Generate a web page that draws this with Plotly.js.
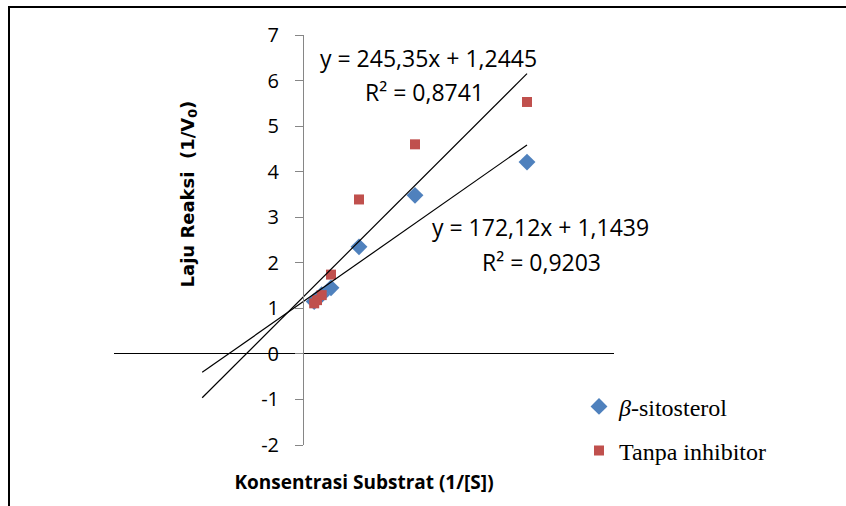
<!DOCTYPE html>
<html>
<head>
<meta charset="utf-8">
<script src="https://cdn.plot.ly/plotly-3.0.1.min.js"></script>
<style>html,body{margin:0;padding:0;background:#fff;}#chart{width:846px;height:506px;}</style>
</head>
<body>
<div id="chart"></div>
<script>
// 1/[S] values (x) and reaction rate 1/V0 (y)
var xValues = [0.02, 0.01, 0.005, 0.0025, 0.00167, 0.00125, 0.001];
var sitosterolY = [4.21, 3.48, 2.35, 1.45, 1.30, 1.21, 1.15];
var tanpaInhibitorY = [5.53, 4.60, 3.39, 1.74, 1.29, 1.18, 1.11];

var seriesNames = ["<i>β</i>-sitosterol", "Tanpa inhibitor"];
var trendSlopes = [172.12, 245.35];
var trendIntercepts = [1.1439, 1.2445];
var eqLine1 = ["y = 172,12x + 1,1439", "y = 245,35x + 1,2445"];
var eqLine2 = ["R² = 0,9203", "R² = 0,8741"];
var backwardForecast = 0.01;

var yTickVals = [-2, -1, 0, 1, 2, 3, 4, 5, 6, 7];
var yTickText = ["-2", "-1", "0", "1", "2", "3", "4", "5", "6", "7"];

var xMin = Math.min.apply(null, xValues) - backwardForecast;
var xMax = Math.max.apply(null, xValues);
function trend(i) {
  return {
    x: [xMin, xMax],
    y: [trendSlopes[i] * xMin + trendIntercepts[i], trendSlopes[i] * xMax + trendIntercepts[i]],
    mode: "lines", type: "scatter", showlegend: false, hoverinfo: "skip",
    line: {color: "#000000", width: 1.2}
  };
}

var data = [
  {x: xValues, y: sitosterolY, name: seriesNames[0], mode: "markers", type: "scatter",
   legendgroup: "a", marker: {symbol: "diamond", size: 13, color: "#4F81BD"}},
  {x: xValues, y: tanpaInhibitorY, name: seriesNames[1], mode: "markers", type: "scatter",
   legendgroup: "b", marker: {symbol: "square", size: 10, color: "#C0504D"}},
  trend(0), trend(1)
];

var eqFont = {family: "Open Sans, sans-serif", size: 23, color: "#000"};
var layout = {
  width: 846, height: 506,
  margin: {l: 114, r: 232, t: 35, b: 61},
  paper_bgcolor: "#fff", plot_bgcolor: "#fff",
  showlegend: true,
  legend: {x: 0.93, y: 0.148, xanchor: "left", yanchor: "top",
    traceorder: "grouped", tracegroupgap: 10,
    font: {family: "Liberation Serif, Times New Roman, serif", size: 24, color: "#000"},
    bgcolor: "rgba(0,0,0,0)"},
  xaxis: {range: [-0.016875, 0.027768], showline: false, showticklabels: false, ticks: "",
    showgrid: false, zeroline: false,
    title: {text: "Konsentrasi Substrat (1/[S])", standoff: 30,
      font: {family: "Open Sans, sans-serif", size: 19, weight: "bold", color: "#000"}}},
  yaxis: {range: [-2, 7], anchor: "free", position: 0.378, side: "left",
    showline: true, linecolor: "#868686", linewidth: 1,
    ticks: "outside", ticklen: 8, tickcolor: "#868686", tickwidth: 1,
    tickvals: yTickVals, ticktext: yTickText, ticklabelstandoff: 12,
    tickfont: {family: "Open Sans, sans-serif", size: 20, color: "#000"},
    showgrid: false, zeroline: true, zerolinecolor: "#000", zerolinewidth: 1},
  annotations: [
    {xref: "paper", yref: "paper", x: 0.628, y: 0.943, text: eqLine1[1], showarrow: false, font: eqFont, xanchor: "center", yanchor: "middle"},
    {xref: "paper", yref: "paper", x: 0.621, y: 0.862, text: eqLine2[1], showarrow: false, font: eqFont, xanchor: "center", yanchor: "middle"},
    {xref: "paper", yref: "paper", x: 0.852, y: 0.5317, text: eqLine1[0], showarrow: false, font: eqFont, xanchor: "center", yanchor: "middle"},
    {xref: "paper", yref: "paper", x: 0.854, y: 0.4463, text: eqLine2[0], showarrow: false, font: eqFont, xanchor: "center", yanchor: "middle"},
    {xref: "paper", yref: "paper", x: 0.15, y: 0.611, text: "Laju Reaksi  (1/V<sub>0</sub>)", textangle: -90, showarrow: false,
     font: {family: "DejaVu Sans, sans-serif", size: 18, weight: "bold", color: "#000"}, xanchor: "center", yanchor: "middle"}
  ],
  shapes: [
    {type: "rect", xref: "paper", yref: "paper", x0: -0.21, x1: 2, y0: -1, y1: 1.0683,
     line: {color: "#000", width: 2}, fillcolor: "rgba(0,0,0,0)", layer: "below"}
  ]
};

Plotly.newPlot("chart", data, layout, {displayModeBar: false, staticPlot: true});
</script>
</body>
</html>
